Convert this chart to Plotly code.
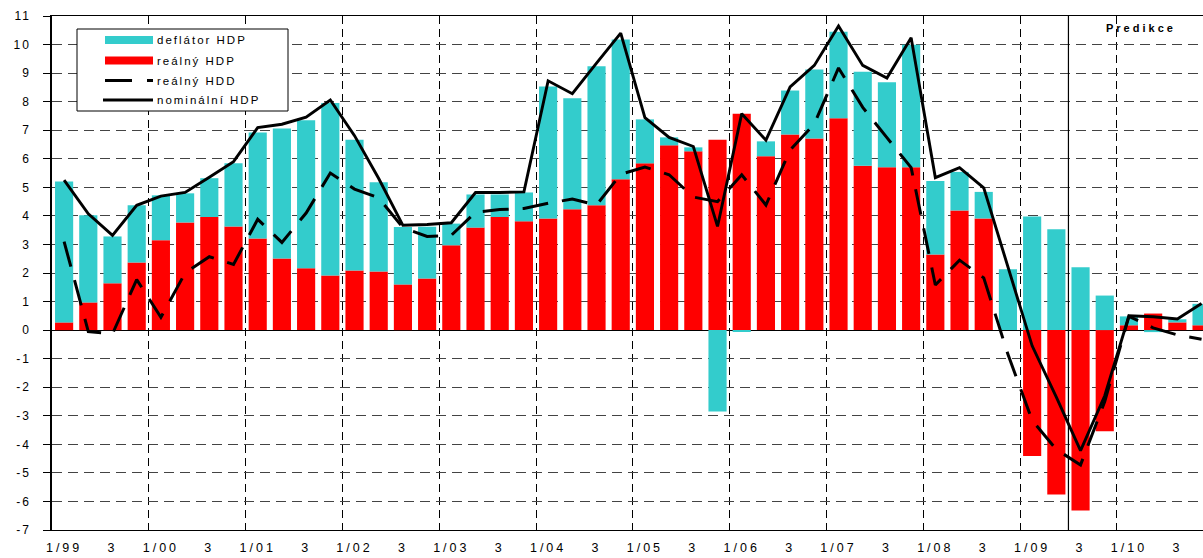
import plotly.graph_objects as go

# ---------------- data ----------------
years = ["99", "00", "01", "02", "03", "04", "05", "06", "07", "08", "09", "10"]
tick_labels = []
for yy in years:
    tick_labels += ["1/" + yy, "3"]

real_hdp = [0.27, 0.97, 1.64, 2.37, 3.15, 3.77, 3.96, 3.63, 3.21, 2.51, 2.17, 1.91,
            2.09, 2.05, 1.60, 1.81, 2.97, 3.59, 3.96, 3.81, 3.91, 4.23, 4.37, 5.28,
            5.84, 6.47, 6.26, 6.67, 7.58, 6.09, 6.85, 6.71, 7.42, 5.76, 5.70, 5.70,
            2.65, 4.19, 3.91, 0.00, -4.41, -5.76, -6.32, -3.54, 0.17, 0.58, 0.27, 0.17]

deflator_hdp = [4.93, 3.05, 1.64, 2.00, 1.57, 1.02, 1.36, 2.21, 3.71, 4.55, 5.18, 6.04,
                4.58, 3.13, 2.01, 1.81, 0.76, 1.16, 0.79, 1.01, 4.62, 3.89, 4.87, 4.90,
                1.54, 0.28, 0.14, -2.85, -0.05, 0.52, 1.54, 2.42, 3.03, 3.29, 2.98, 4.29,
                2.57, 1.35, 0.93, 2.13, 3.98, 3.53, 2.20, 1.21, 0.31, -0.07, 0.11, 0.75]

nominal_hdp = [5.25, 4.07, 3.32, 4.37, 4.69, 4.82, 5.35, 5.90, 7.09, 7.21, 7.46, 8.06,
               6.81, 5.31, 3.67, 3.70, 3.76, 4.82, 4.82, 4.84, 8.73, 8.28, 9.35, 10.40,
               7.44, 6.75, 6.43, 3.63, 7.58, 6.65, 8.52, 9.27, 10.65, 9.27, 8.83, 10.24,
               5.34, 5.69, 4.98, 2.20, -0.55, -2.35, -4.22, -2.30, 0.50, 0.47, 0.39, 0.93]

real_hdd = [3.10, -0.05, -0.13, 1.77, 0.45, 2.00, 2.57, 2.30, 3.88, 3.07, 4.10, 5.50,
            4.94, 4.63, 3.59, 3.28, 3.32, 4.13, 4.22, 4.26, 4.44, 4.59, 4.38, 5.46,
            5.71, 5.44, 4.66, 4.50, 5.44, 4.38, 6.31, 7.22, 9.18, 7.80, 6.74, 5.69,
            1.58, 2.45, 1.83, -0.85, -3.16, -4.18, -4.72, -2.50, 0.48, 0.08, -0.17, -0.32]

series_names = ["deflátor HDP", "reálný HDP", "reálný HDD", "nominální HDP"]
prediction_start = 41.5  # between Q2/09 and Q3/09
y_ticks = list(range(-7, 12))

# ---------------- styling ----------------
FONT = "Liberation Sans, Arial, sans-serif"
CYAN = "#33CCCC"
RED = "#FF0000"
W, H = 1203, 558
ML, MR, MT, MB = 52, 0, 16, 28
PW, PH = W - ML - MR, H - MT - MB


def spaced(t, ls):
    return f'<span style="letter-spacing:{ls}px">{t}</span>'


def px(xp):
    return (xp - ML) / PW


def py(yp):
    return (H - MB - yp) / PH


xs = list(range(len(real_hdp)))

fig = go.Figure()
fig.add_trace(go.Bar(x=xs, y=real_hdp, name=series_names[1], marker_color=RED,
                     marker_line_width=0, showlegend=False))
fig.add_trace(go.Bar(x=xs, y=deflator_hdp, name=series_names[0], marker_color=CYAN,
                     marker_line_width=0, showlegend=False))
fig.add_trace(go.Scatter(x=xs, y=real_hdd, name=series_names[2], mode="lines",
                         line=dict(color="black", width=3, dash="26px,14px"),
                         showlegend=False))
fig.add_trace(go.Scatter(x=xs, y=nominal_hdp, name=series_names[3], mode="lines",
                         line=dict(color="black", width=2.9), showlegend=False))

shapes = []
# prediction divider
shapes.append(dict(type="line", xref="x", yref="paper", x0=prediction_start,
                   x1=prediction_start, y0=0, y1=1, line=dict(color="black", width=1.2),
                   layer="above"))
# legend box
shapes.append(dict(type="rect", xref="paper", yref="paper", x0=px(77), x1=px(288),
                   y0=py(111), y1=py(29), fillcolor="white",
                   line=dict(color="black", width=1), layer="above"))
rows = [40, 60.5, 80.5, 100]
shapes.append(dict(type="rect", xref="paper", yref="paper", x0=px(105), x1=px(153),
                   y0=py(rows[0] + 4), y1=py(rows[0] - 4), fillcolor=CYAN,
                   line=dict(width=0), layer="above"))
shapes.append(dict(type="rect", xref="paper", yref="paper", x0=px(105), x1=px(153),
                   y0=py(rows[1] + 4), y1=py(rows[1] - 4), fillcolor=RED,
                   line=dict(width=0), layer="above"))
for a, b in [(105, 132), (147, 153)]:
    shapes.append(dict(type="line", xref="paper", yref="paper", x0=px(a), x1=px(b),
                       y0=py(rows[2]), y1=py(rows[2]),
                       line=dict(color="black", width=3), layer="above"))
shapes.append(dict(type="line", xref="paper", yref="paper", x0=px(103), x1=px(153),
                   y0=py(rows[3]), y1=py(rows[3]),
                   line=dict(color="black", width=2.9), layer="above"))

annotations = []
for name, r in zip(series_names, rows):
    annotations.append(dict(xref="paper", yref="paper", x=px(155), y=py(r),
                            xanchor="left", yanchor="middle", showarrow=False,
                            text=spaced(name, 2),
                            font=dict(family=FONT, size=11.5, color="black")))
annotations.append(dict(xref="paper", yref="paper", x=px(1104), y=py(28),
                        xanchor="left", yanchor="middle", showarrow=False,
                        text=spaced("<b>Predikce</b>", 3),
                        font=dict(family=FONT, size=11, color="black")))

fig.update_layout(
    width=W, height=H,
    margin=dict(l=ML, r=MR, t=MT, b=MB, pad=0, autoexpand=False),
    paper_bgcolor="white", plot_bgcolor="white",
    barmode="relative", bargap=0.25,
    shapes=shapes, annotations=annotations,
    font=dict(family=FONT, size=12, color="black"),
    showlegend=False,
)
fig.update_xaxes(
    type="linear", range=[-0.5, 47.06], automargin=False,
    tickmode="array", tickvals=list(range(0, 48, 2)),
    ticktext=[spaced(t, 3) for t in tick_labels],
    tickfont=dict(family=FONT, size=12.5, color="black"),
    ticks="", ticklabelstandoff=6,
    showgrid=False, zeroline=False,
    showline=True, linecolor="black", linewidth=1.2, mirror=True,
    minor=dict(tickmode="linear", tick0=-0.5, dtick=4, showgrid=True,
               gridcolor="black", gridwidth=1, griddash="8px,5px"),
)
fig.update_yaxes(
    range=[-7, 11], automargin=False, tickmode="array", tickvals=y_ticks,
    ticktext=[spaced(str(v).replace("\u2212", "-"), 2) for v in y_ticks],
    tickfont=dict(family=FONT, size=12, color="black"),
    ticks="outside", ticklen=7, tickcolor="black", tickwidth=1,
    ticklabelstandoff=10,
    showgrid=True, gridcolor="#444444", gridwidth=1, griddash="10px,6px",
    zeroline=True, zerolinecolor="black", zerolinewidth=1,
    showline=True, linecolor="black", linewidth=1.5,
)

fig.write_html("out.html",
               config={"displayModeBar": False},
               post_script="document.body.style.margin='0px';document.body.style.overflow='hidden';")
